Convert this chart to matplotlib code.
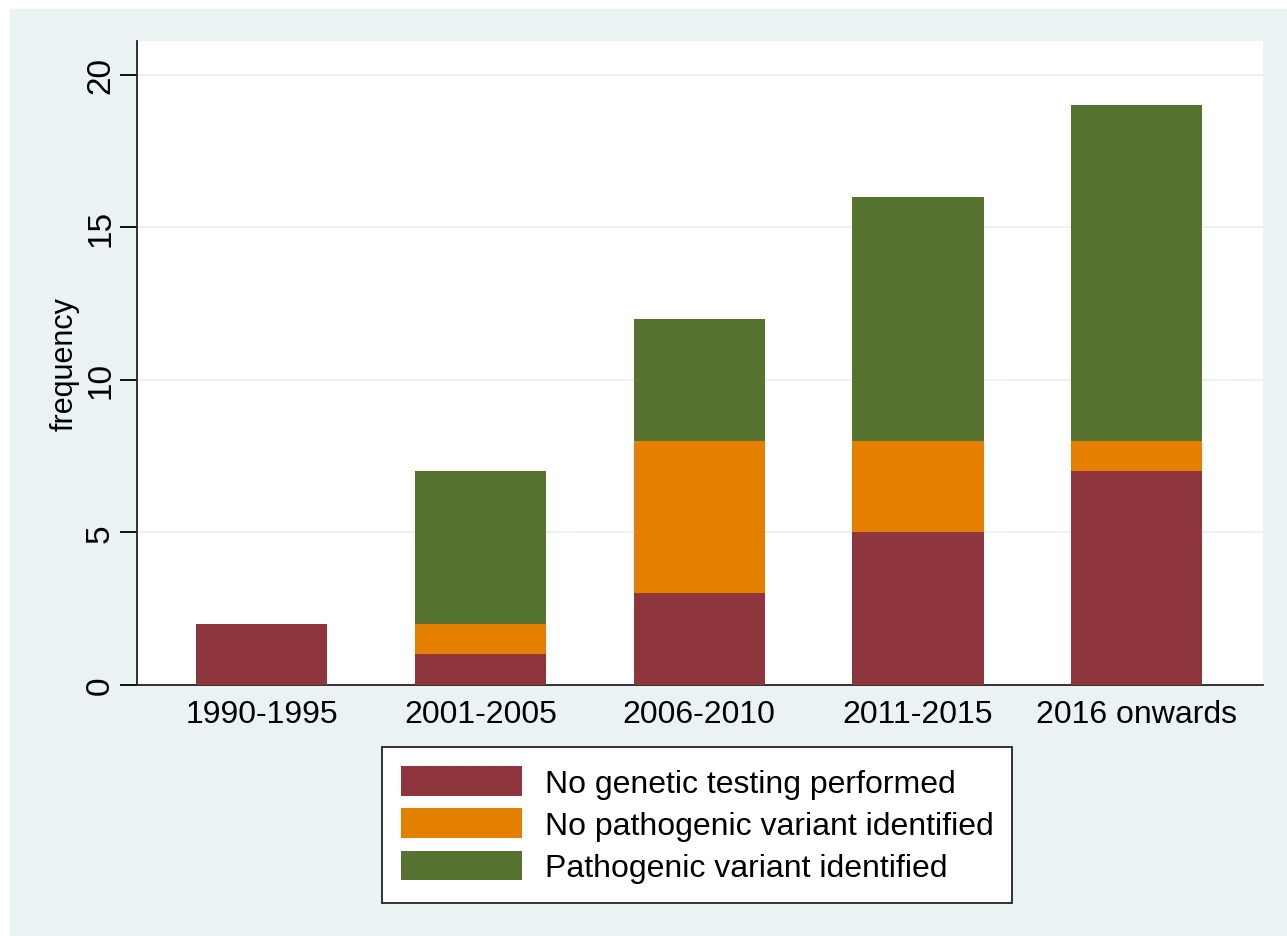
import matplotlib.pyplot as plt
from matplotlib.patches import Rectangle
import numpy as np

plt.rcParams['font.family'] = ['Liberation Sans', 'DejaVu Sans']

# Data
periods = ['1990-1995', '2001-2005', '2006-2010', '2011-2015', '2016 onwards']
no_testing = [2, 1, 3, 5, 7]
no_variant = [0, 1, 5, 3, 1]
variant = [0, 5, 4, 8, 11]
labels = ['No genetic testing performed', 'No pathogenic variant identified',
          'Pathogenic variant identified']
colors = ['#8F353D', '#E47F00', '#56742F']
bg = '#EAF2F3'

W, H = 1287, 937
fig = plt.figure(figsize=(W / 100, H / 100), dpi=100, facecolor='white')
fig.patches.append(Rectangle((10 / W, 0), 1 - 10 / W, 1 - 10 / H,
                             transform=fig.transFigure, color=bg, zorder=-10))

# axes box in pixels: left 137, right 1263, top 42, bottom 686
ax = fig.add_axes([137 / W, 1 - 686 / H, (1263 - 137) / W, (686 - 42) / H])
ax.set_facecolor('white')

x = np.arange(len(periods))
bottom = np.zeros(len(periods))
for vals, c, lab in zip([no_testing, no_variant, variant], colors, labels):
    ax.bar(x, vals, width=0.6, bottom=bottom, color=c, label=lab, zorder=3)
    bottom += np.array(vals)

ax.set_xlim(-0.57, 4.577)
ax.set_ylim(0, 21.1)
ax.set_yticks([0, 5, 10, 15, 20])
ax.set_xticks(x)
ax.set_xticklabels(periods, fontsize=23)
ax.tick_params(axis='x', length=0, pad=10)
ax.tick_params(axis='y', length=12, width=1.3, labelsize=24, pad=3)
for t in ax.get_yticklabels():
    t.set_rotation(90)
    t.set_va('center')
ax.grid(axis='y', color=bg, linewidth=1.5, zorder=0)
for s in ['top', 'right']:
    ax.spines[s].set_visible(False)
for s in ['left', 'bottom']:
    ax.spines[s].set_linewidth(1.3)
    ax.spines[s].set_color('#222222')
ax.set_ylabel('frequency', fontsize=22, labelpad=4)

leg = fig.legend(loc='upper center', bbox_to_anchor=(697 / W, 1 - 748 / H),
                 fontsize=23, frameon=True, fancybox=False, framealpha=1,
                 facecolor='white', edgecolor='#222222',
                 handlelength=3.8, handleheight=1.05, handletextpad=0.7,
                 labelspacing=0.3, borderpad=0.6, borderaxespad=0)
leg.get_frame().set_linewidth(1.3)

fig.savefig('out.png', dpi=100, facecolor='white')
